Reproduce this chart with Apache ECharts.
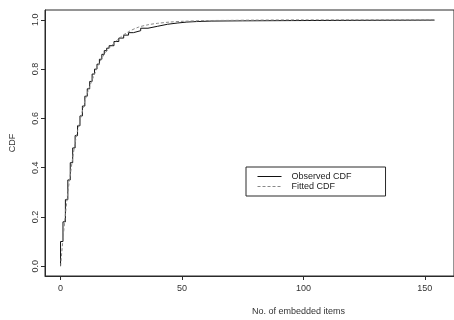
<!DOCTYPE html>
<html>
<head>
<meta charset="utf-8">
<script src="https://cdn.jsdelivr.net/npm/echarts@6/dist/echarts.min.js"></script>
<style>
html,body{margin:0;padding:0;background:#fff;}
#c{width:454px;height:320px;}
</style>
</head>
<body>
<div id="c"></div>
<script>
// Observed empirical CDF (step points: number of embedded items, CDF)
const obsX = [0, 0, 1, 2, 3, 4, 5, 6, 7, 8, 9, 10, 11, 12, 13, 14, 15, 16, 17, 18, 19, 20, 22, 24, 26, 28, 30, 33, 36, 40, 44, 48, 52, 56, 62, 75, 95, 120, 154];
const obsY = [0, 0.10, 0.18, 0.27, 0.35, 0.42, 0.48, 0.53, 0.57, 0.61, 0.65, 0.69, 0.72, 0.75, 0.78, 0.80, 0.82, 0.84, 0.86, 0.875, 0.885, 0.895, 0.912, 0.926, 0.938, 0.948, 0.956, 0.966, 0.974, 0.982, 0.987, 0.991, 0.993, 0.995, 0.996, 0.997, 0.998, 0.999, 1.0];
// Fitted CDF
const fitX = [0, 1, 2, 3, 4, 5, 6, 7, 8, 9, 10, 12, 14, 16, 18, 20, 22, 25, 28, 32, 36, 40, 45, 50, 60, 70, 80, 100, 120, 154];
const fitY = [0, 0.11, 0.21, 0.30, 0.37, 0.44, 0.50, 0.55, 0.59, 0.63, 0.67, 0.73, 0.78, 0.825, 0.86, 0.885, 0.905, 0.932, 0.952, 0.97, 0.98, 0.986, 0.991, 0.994, 0.997, 0.998, 0.999, 1.0, 1.0, 1.0];
const xTicks = [0, 50, 100, 150];
const yTicks = [0, 0.2, 0.4, 0.6, 0.8, 1.0];
const seriesNames = ['Observed CDF', 'Fitted CDF'];
const xTitle = 'No. of embedded items';
const yTitle = 'CDF';

const font = 'Liberation Sans, Arial, Helvetica, sans-serif';
const ink = '#2a2a2a';
const chart = echarts.init(document.getElementById('c'), null, {renderer: 'canvas'});
chart.setOption({
  animation: false,
  backgroundColor: '#fff',
  grid: {left: 45, top: 10, width: 419, height: 266, show: true, borderColor: ink, borderWidth: 1, backgroundColor: 'transparent'},
  xAxis: {
    type: 'value', min: -6.4, max: 162,
    axisLine: {show: true, onZero: false, lineStyle: {color: ink, width: 1}},
    axisTick: {show: true, length: 4, customValues: xTicks, lineStyle: {color: ink}},
    axisLabel: {customValues: xTicks, margin: 8, fontSize: 9, fontFamily: font, color: '#333'},
    splitLine: {show: false}
  },
  yAxis: {
    type: 'value', min: -0.04, max: 1.04,
    name: yTitle, nameLocation: 'middle', nameGap: 28, nameRotate: 90,
    nameTextStyle: {fontSize: 9, fontFamily: font, color: '#333'},
    axisLine: {show: true, onZero: false, lineStyle: {color: ink, width: 1}},
    axisTick: {show: true, length: 4, customValues: yTicks, lineStyle: {color: ink}},
    axisLabel: {customValues: yTicks, rotate: 90, margin: 5, fontSize: 9, fontFamily: font, color: '#333',
      formatter: v => v.toFixed(1)},
    splitLine: {show: false}
  },
  legend: {
    orient: 'vertical', left: 246, top: 167,
    padding: [5, 34, 5, 11],
    itemWidth: 24, itemHeight: 10, itemGap: 1,
    borderColor: ink, borderWidth: 1,
    itemStyle: {opacity: 0},
    lineStyle: {width: 1},
    textStyle: {fontSize: 9, fontFamily: font, color: '#222', padding: [0, 0, 0, 5]},
    data: seriesNames
  },
  graphic: [{
    type: 'text', left: 252, top: 307,
    style: {text: xTitle, fontSize: 9, fontFamily: font, fill: '#333'}
  }],
  series: [
    {
      name: seriesNames[0], type: 'line', step: 'end', symbol: 'none',
      data: obsX.map((x, i) => [x, obsY[i]]),
      lineStyle: {color: '#111', width: 1}, itemStyle: {color: '#111'}
    },
    {
      name: seriesNames[1], type: 'line', smooth: 0.3, symbol: 'none',
      data: fitX.map((x, i) => [x, fitY[i]]),
      lineStyle: {color: '#888', width: 1, type: [3, 2]}, itemStyle: {color: '#888'}
    }
  ]
});
</script>
</body>
</html>
